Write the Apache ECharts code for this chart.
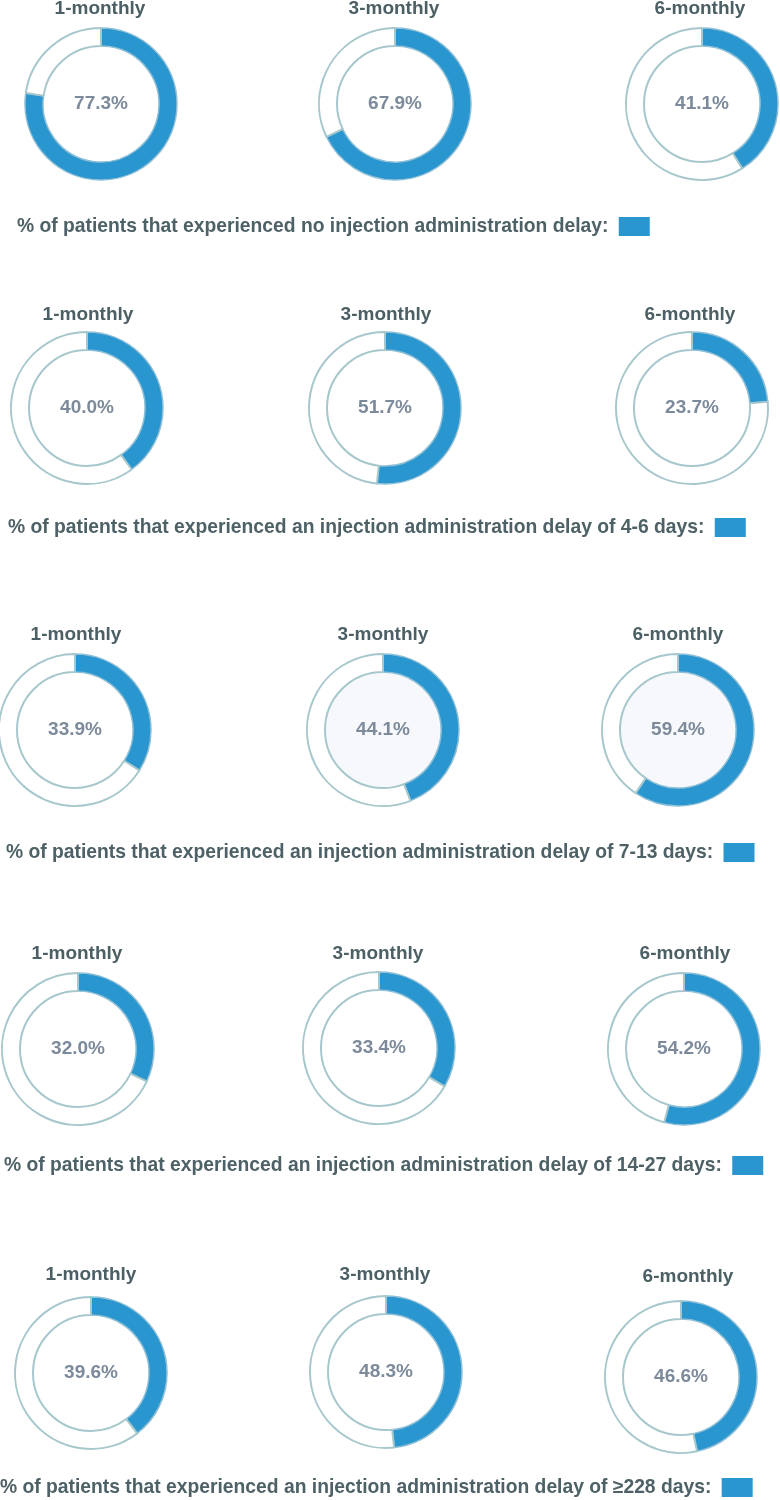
<!DOCTYPE html>
<html>
<head>
<meta charset="utf-8">
<script src="https://cdn.jsdelivr.net/npm/echarts@6/dist/echarts.min.js"></script>
<style>
html, body {margin: 0; padding: 0; background: #fff;}
#DonutChart {width: 780px; height: 1500px;}
</style>
</head>
<body>
<div id="DonutChart"></div>
<script>
var myChart = echarts.init(document.getElementById('DonutChart'));

// 数据
var plans = ['1-monthly', '3-monthly', '6-monthly'];
var legendNames = [
    '% of patients that experienced no injection administration delay:',
    '% of patients that experienced an injection administration delay of 4-6 days:',
    '% of patients that experienced an injection administration delay of 7-13 days:',
    '% of patients that experienced an injection administration delay of 14-27 days:',
    '% of patients that experienced an injection administration delay of \u2265228 days:'
];
var noDelay = [77.3, 67.9, 41.1];
var delay4to6 = [40.0, 51.7, 23.7];
var delay7to13 = [33.9, 44.1, 59.4];
var delay14to27 = [32.0, 33.4, 54.2];
var delay228 = [39.6, 48.3, 46.6];
var rows = [noDelay, delay4to6, delay7to13, delay14to27, delay228];

// 位置（每行三个环形图的圆心）
var centers = [
    [[101, 104], [395, 104], [702, 104]],
    [[87, 408], [385, 408], [692, 408]],
    [[75, 730], [383, 730], [678, 730]],
    [[78, 1049], [379, 1048], [684, 1049]],
    [[91, 1373], [386, 1372], [681, 1377]]
];
var titleX = [[100, 394, 700], [88, 386, 690], [76, 383, 678], [77, 378, 685], [91, 385, 688]];
var titleY = [[10, 10, 10], [316, 316, 316], [636, 636, 636], [955, 955, 955], [1276, 1276, 1278]];
var legendPos = [[17, 217], [8, 518], [6, 843], [4, 1156], [0, 1478]];
var shaded = {'2-1': true, '2-2': true};

var blue = '#2996d0';
var ring = '#a6c7cb';

var titles = [];
var legends = [];
var series = [];

for (var r = 0; r < rows.length; r++) {
    legends.push({
        left: legendPos[r][0],
        top: legendPos[r][1],
        align: 'right',
        itemWidth: 31,
        itemHeight: 19,
        icon: 'rect',
        selectedMode: false,
        padding: 0,
        data: [legendNames[r]],
        itemStyle: {borderWidth: 0},
        formatter: function (name) {
            return name + ' ';
        },
        textStyle: {
            color: '#4d6166',
            fontSize: 19.3,
            fontWeight: 'bold',
            fontFamily: 'Liberation Sans'
        }
    });
    for (var c = 0; c < 3; c++) {
        var v = rows[r][c];
        titles.push({
            text: plans[c],
            left: titleX[r][c],
            top: titleY[r][c] - 11,
            textAlign: 'center',
            padding: 0,
            textStyle: {
                color: '#4b5f64',
                fontSize: 19,
                fontWeight: 'bold',
                fontFamily: 'Liberation Sans'
            }
        });
        if (shaded[r + '-' + c]) {
            series.push({
                type: 'pie',
                silent: true,
                center: centers[r][c],
                radius: [0, 57],
                label: {show: false},
                itemStyle: {color: '#f6f8fb'},
                data: [{value: 1, name: 'fill'}]
            });
        }
        series.push({
            type: 'pie',
            silent: true,
            center: centers[r][c],
            radius: [58, 76],
            startAngle: 90,
            clockwise: true,
            avoidLabelOverlap: false,
            emphasis: {disabled: true},
            labelLine: {show: false},
            itemStyle: {borderColor: ring, borderWidth: 2},
            data: [
                {
                    value: v,
                    name: legendNames[r],
                    itemStyle: {color: blue, borderColor: '#8fbfd6', borderWidth: 1.5},
                    label: {
                        show: true,
                        position: 'center',
                        formatter: v.toFixed(1) + '%',
                        color: '#7c8a9b',
                        fontSize: 19,
                        fontWeight: 'bold',
                        fontFamily: 'Liberation Sans'
                    }
                },
                {
                    value: Math.round((100 - v) * 10) / 10,
                    name: 'rest',
                    itemStyle: {color: '#ffffff'},
                    label: {show: false}
                }
            ]
        });
    }
}

var option = {
    animation: false,
    backgroundColor: '#ffffff',
    title: titles,
    legend: legends,
    series: series
};
myChart.setOption(option);
</script>
</body>
</html>
